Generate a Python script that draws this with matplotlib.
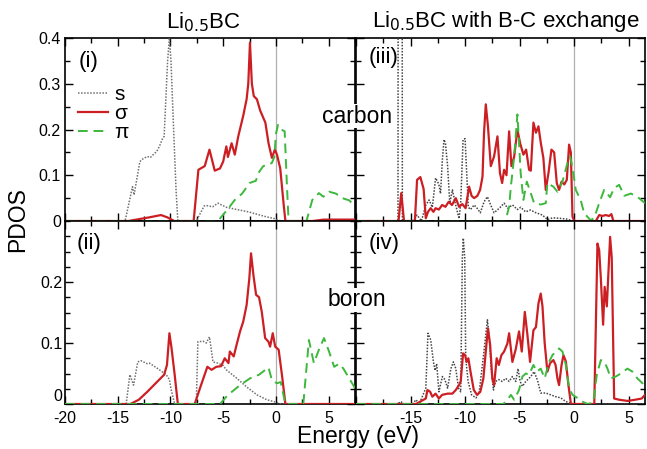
import matplotlib
matplotlib.use("Agg")
import matplotlib.pyplot as plt
from matplotlib.ticker import MultipleLocator, FuncFormatter, FixedLocator

plt.rcParams['font.family'] = ['Liberation Sans', 'DejaVu Sans']
plt.rcParams['axes.unicode_minus'] = False

# ---------------- data (energy eV, PDOS) ----------------
# Panel (i): Li0.5BC, carbon
c_s = [(-20, 0), (-14.3, 0), (-13.6, 0.075), (-13.45, 0.057), (-12.9, 0.13), (-12.6, 0.136),
       (-12.2, 0.141), (-11.9, 0.139), (-11.55, 0.147), (-11.3, 0.152), (-11.05, 0.163),
       (-10.75, 0.18), (-10.6, 0.185), (-10.43, 0.27), (-10.27, 0.35), (-10.1, 0.40),
       (-9.95, 0.35), (-9.7, 0.2), (-9.47, 0.068), (-9.3, 0), (-7.55, 0), (-6.8, 0.033),
       (-6.6, 0.034), (-6.0, 0.031), (-5.5, 0.039), (-4.7, 0.03), (-3.9, 0.026), (-2.6, 0.02),
       (-1.05, 0.01), (-0.1, 0.005), (0.5, 0), (4.0, 0), (5.0, 0.003), (7.5, 0.003)]
c_sigma = [(-20, 0), (-14.0, 0), (-13.0, 0.004), (-12.0, 0.008), (-10.9, 0.013), (-10.3, 0.008),
           (-9.65, 0), (-7.8, 0), (-7.35, 0.112), (-6.75, 0.12), (-6.3, 0.156), (-5.8, 0.11),
           (-5.3, 0.115), (-5.0, 0.13), (-4.7, 0.163), (-4.55, 0.14), (-4.2, 0.17), (-3.9, 0.145),
           (-3.57, 0.185), (-3.1, 0.23), (-2.78, 0.266), (-2.62, 0.3), (-2.46, 0.39), (-2.28, 0.3),
           (-2.1, 0.273), (-1.8, 0.266), (-1.5, 0.242), (-1.0, 0.215), (-0.7, 0.17), (-0.38, 0.138),
           (-0.1, 0.156), (0.1, 0.145), (0.41, 0.115), (0.74, 0.035), (0.9, 0), (3.5, 0),
           (4.5, 0.003), (7.5, 0.003)]
c_pi = [(-20, 0), (-5.5, 0), (-4.6, 0.025), (-3.9, 0.046), (-3.2, 0.06), (-2.5, 0.083),
        (-1.9, 0.088), (-1.66, 0.105), (-1.2, 0.12), (-0.7, 0.123), (-0.38, 0.127), (-0.15, 0.14),
        (0.0, 0.19), (0.2, 0.21), (0.5, 0.2), (0.83, 0.196), (1.05, 0.075), (1.2, 0),
        (2.9, 0), (3.45, 0.046), (4.08, 0.061), (4.5, 0.053), (5.04, 0.064), (5.68, 0.06),
        (6.3, 0.05), (6.96, 0.045), (7.5, 0.032)]

# Panel (ii): Li0.5BC, boron
b_s = [(-20, 0), (-14.2, 0), (-13.85, 0.048), (-13.5, 0.031), (-13.1, 0.069), (-12.8, 0.071),
       (-12.2, 0.066), (-12.0, 0.067), (-11.2, 0.058), (-10.4, 0.048), (-10.1, 0.04),
       (-9.95, 0.025), (-9.6, 0), (-7.55, 0), (-7.4, 0.102), (-6.9, 0.103), (-6.6, 0.1),
       (-6.3, 0.11), (-5.97, 0.069), (-5.5, 0.067), (-5.0, 0.063), (-4.7, 0.056), (-3.7, 0.042),
       (-2.78, 0.028), (-1.8, 0.015), (-0.86, 0.007), (0, 0.003), (0.5, 0), (7.5, 0)]
b_sigma = [(-20, 0), (-13.8, 0), (-13.0, 0.007), (-12.2, 0.02), (-11.4, 0.034), (-10.6, 0.048),
           (-10.33, 0.064), (-10.1, 0.116), (-9.9, 0.092), (-9.6, 0.048), (-9.3, 0), (-7.7, 0),
           (-7.1, 0.031), (-6.5, 0.061), (-6.1, 0.056), (-5.65, 0.061), (-5.2, 0.062),
           (-4.85, 0.075), (-4.5, 0.067), (-4.37, 0.086), (-4.0, 0.078), (-3.73, 0.097),
           (-3.4, 0.119), (-3.1, 0.135), (-2.78, 0.162), (-2.52, 0.206), (-2.36, 0.247),
           (-2.13, 0.211), (-1.88, 0.179), (-1.6, 0.175), (-1.34, 0.151), (-1.02, 0.108),
           (-0.7, 0.102), (-0.55, 0.094), (-0.3, 0.116), (-0.07, 0.094), (0.26, 0.089),
           (0.57, 0.048), (0.9, 0), (7.5, 0)]
b_pi = [(-20, 0), (-5.3, 0), (-4.6, 0.014), (-3.4, 0.031), (-2.46, 0.042), (-1.6, 0.048),
        (-0.7, 0.06), (-0.38, 0.039), (0.1, 0.034), (0.45, 0.036), (0.9, 0), (2.6, 0),
        (3.13, 0.105), (3.6, 0.067), (4.1, 0.09), (4.56, 0.108), (5.04, 0.086), (5.52, 0.061),
        (6.0, 0.066), (6.4, 0.058), (6.95, 0.042), (7.5, 0.026)]

# Panel (iii): with B-C exchange, carbon
xc_s = [(-20, 0), (-16.15, 0), (-16.1, 2.0), (-15.8, 2.0), (-15.75, 0), (-14.8, 0),
        (-14.4, 0.013), (-14.0, 0), (-13.6, 0.035), (-13.3, 0.046), (-13.0, 0.03),
        (-12.7, 0.094), (-12.4, 0.08), (-12.25, 0.06), (-12.08, 0.134), (-11.93, 0.178),
        (-11.8, 0.17), (-11.6, 0.12), (-11.4, 0.039), (-11.16, 0.068), (-10.9, 0.039),
        (-10.55, 0.005), (-10.4, 0.04), (-10.18, 0.178), (-10.0, 0.18), (-9.85, 0.105),
        (-9.7, 0.03), (-9.5, 0.025), (-9.17, 0.035), (-8.9, 0.028), (-8.6, 0.018),
        (-8.26, 0.042), (-7.95, 0.053), (-7.65, 0.035), (-7.34, 0.018), (-7.0, 0.025),
        (-6.73, 0.031), (-6.42, 0.039), (-6.1, 0.028), (-5.65, 0.035), (-5.2, 0.025),
        (-4.9, 0.03), (-4.45, 0.02), (-4.0, 0.024), (-3.5, 0.018), (-2.9, 0.013),
        (-2.45, 0.003), (-1.97, 0.007), (-1.38, 0.006), (-0.6, 0.004), (-0.15, 0), (6.5, 0)]
xc_sigma = [(-20, 0), (-16.1, 0), (-15.85, 0.061), (-15.6, 0), (-14.6, 0), (-14.4, 0.09),
            (-14.1, 0.096), (-13.8, 0.07), (-13.6, 0.006), (-13.4, 0.02), (-13.15, 0.028),
            (-12.9, 0.02), (-12.7, 0.028), (-12.4, 0.025), (-12.1, 0.035), (-11.8, 0.031),
            (-11.5, 0.042), (-11.2, 0.035), (-10.85, 0.05), (-10.55, 0.031), (-10.25, 0.037),
            (-9.95, 0.028), (-9.63, 0.075), (-9.4, 0.055), (-9.17, 0.05), (-8.87, 0.055),
            (-8.62, 0.068), (-8.4, 0.097), (-8.26, 0.193), (-8.1, 0.255), (-7.9, 0.207),
            (-7.64, 0.12), (-7.34, 0.141), (-7.03, 0.185), (-6.8, 0.105), (-6.6, 0.083),
            (-6.42, 0.112), (-6.2, 0.1), (-5.96, 0.196), (-5.75, 0.12), (-5.5, 0.14),
            (-5.2, 0.2), (-4.95, 0.17), (-4.65, 0.145), (-4.4, 0.156), (-4.13, 0.112),
            (-3.97, 0.11), (-3.73, 0.215), (-3.5, 0.193), (-3.27, 0.207), (-3.05, 0.17),
            (-2.82, 0.138), (-2.6, 0.068), (-2.35, 0.105), (-2.08, 0.156), (-1.83, 0.15),
            (-1.59, 0.083), (-1.38, 0.068), (-1.15, 0.086), (-0.9, 0.08), (-0.67, 0.09),
            (-0.46, 0.167), (-0.3, 0.15), (-0.15, 0.01), (0, 0), (2.0, 0), (2.3, 0.013),
            (2.6, 0.011), (2.9, 0.013), (3.2, 0.011), (3.42, 0.015), (3.6, 0), (6.5, 0)]
xc_pi = [(-20, 0), (-6.3, 0), (-5.96, 0.031), (-5.8, 0.075), (-5.5, 0.14), (-5.2, 0.233),
         (-5.05, 0.17), (-4.9, 0.105), (-4.65, 0.046), (-4.34, 0.086), (-4.1, 0.07),
         (-3.67, 0.039), (-3.05, 0.036), (-2.6, 0.039), (-2.45, 0.083), (-1.9, 0.075),
         (-1.53, 0.064), (-1.07, 0.086), (-0.61, 0.127), (-0.37, 0.141), (-0.15, 0.117),
         (0.15, 0.068), (0.6, 0.046), (0.92, 0.017), (1.5, 0.002), (1.83, 0.006),
         (2.3, 0.039), (2.75, 0.068), (3.3, 0.052), (3.67, 0.072), (4.13, 0.079),
         (4.6, 0.055), (5.2, 0.06), (5.8, 0.053), (6.5, 0.039)]

# Panel (iv): with B-C exchange, boron
xb_s = [(-20, 0), (-16.2, 0), (-15.9, 0.004), (-15.6, 0), (-14.8, 0), (-14.5, 0.007),
        (-14.2, 0), (-13.6, 0.026), (-13.4, 0.116), (-13.15, 0.105), (-12.9, 0.069),
        (-12.75, 0.055), (-12.6, 0.066), (-12.4, 0.02), (-12.08, 0.045), (-11.85, 0.04),
        (-11.6, 0.026), (-11.3, 0.058), (-11.07, 0.069), (-10.85, 0.058), (-10.6, 0.026),
        (-10.4, 0.02), (-10.25, 0.239), (-10.16, 0.272), (-10.03, 0.239), (-9.94, 0.075),
        (-9.72, 0.037), (-9.4, 0.015), (-9.0, 0.01), (-8.7, 0.02), (-8.41, 0.064),
        (-8.1, 0.113), (-7.95, 0.138), (-7.8, 0.113), (-7.58, 0.053), (-7.4, 0.023),
        (-7.2, 0.037), (-6.9, 0.04), (-6.6, 0.037), (-6.27, 0.042), (-5.96, 0.037),
        (-5.66, 0.045), (-5.35, 0.037), (-5.14, 0.058), (-4.95, 0.037), (-4.74, 0.029),
        (-4.43, 0.037), (-3.97, 0.045), (-3.67, 0.053), (-3.36, 0.039), (-3.06, 0.018),
        (-2.6, 0.018), (-2.14, 0.015), (-1.68, 0.012), (-1.22, 0.01), (-0.76, 0.004),
        (-0.3, 0.001), (0, 0), (6.5, 0)]
xb_sigma = [(-20, 0), (-14.5, 0), (-13.6, 0.009), (-13.45, 0.023), (-13.2, 0.02), (-13.0, 0.012),
            (-12.7, 0.017), (-12.4, 0.009), (-12.1, 0.015), (-11.6, 0.017), (-11.16, 0.017),
            (-10.85, 0.023), (-10.55, 0.031), (-10.4, 0.037), (-10.18, 0.083), (-10.0, 0.08),
            (-9.85, 0.069), (-9.7, 0.075), (-9.5, 0.053), (-9.2, 0.023), (-8.9, 0.015),
            (-8.6, 0.02), (-8.32, 0.042), (-8.1, 0.086), (-7.9, 0.124), (-7.7, 0.097),
            (-7.5, 0.042), (-7.34, 0.031), (-7.1, 0.075), (-6.9, 0.064), (-6.67, 0.08),
            (-6.42, 0.086), (-6.12, 0.099), (-5.96, 0.116), (-5.66, 0.069), (-5.35, 0.09),
            (-5.05, 0.119), (-4.8, 0.086), (-4.52, 0.151), (-4.28, 0.113), (-4.04, 0.069),
            (-3.73, 0.121), (-3.5, 0.126), (-3.27, 0.165), (-3.06, 0.181), (-2.9, 0.16),
            (-2.7, 0.1), (-2.45, 0.053), (-2.2, 0.067), (-1.9, 0.072), (-1.7, 0.064),
            (-1.53, 0.042), (-1.38, 0.031), (-1.15, 0.064), (-0.98, 0.08), (-0.76, 0.07),
            (-0.52, 0.031), (-0.3, 0.001), (-0.15, 0), (1.85, 0), (2.14, 0.263), (2.3, 0.252),
            (2.45, 0.206), (2.66, 0.13), (2.8, 0.192), (3.0, 0.16), (3.3, 0.274), (3.45, 0.24),
            (3.67, 0.009), (4.13, 0.007), (4.9, 0.005), (5.6, 0.007), (6.2, 0.009), (6.5, 0.015)]
xb_pi = [(-20, 0), (-6.5, 0), (-6.1, 0.007), (-5.8, 0.015), (-5.5, 0.007), (-5.05, 0.023),
         (-4.74, 0.045), (-4.43, 0.05), (-4.13, 0.048), (-3.73, 0.064), (-3.42, 0.053),
         (-3.06, 0.058), (-2.7, 0.042), (-2.3, 0.069), (-1.99, 0.08), (-1.68, 0.086),
         (-1.38, 0.091), (-1.07, 0.086), (-0.76, 0.064), (-0.46, 0.026), (-0.15, 0.015),
         (0.3, 0.01), (0.76, 0.004), (1.2, 0), (1.75, 0.002), (2.08, 0.048), (2.45, 0.072),
         (2.75, 0.07), (3.06, 0.058), (3.36, 0.042), (3.82, 0.045), (4.28, 0.05),
         (4.89, 0.058), (5.35, 0.053), (5.8, 0.042), (6.27, 0.034), (6.5, 0.026)]

series_labels = ['s', 'σ', 'π']
titles = ['Li$_{0.5}$BC', 'Li$_{0.5}$BC with B-C exchange']
panel_tags = ['(i)', '(ii)', '(iii)', '(iv)']

# ---------------- figure ----------------
W, H = 647, 449
fig = plt.figure(figsize=(W / 100, H / 100), dpi=100)

def box(x0, y0, x1, y1):
    return [x0 / W, 1 - y1 / H, (x1 - x0) / W, (y1 - y0) / H]

ax_i = fig.add_axes(box(65, 38, 355, 221))
ax_ii = fig.add_axes(box(65, 221, 355, 404))
ax_iii = fig.add_axes(box(356, 38, 645, 221))
ax_iv = fig.add_axes(box(356, 221, 645, 404))

SIG_STYLE = dict(color='#cc1f24', ls='-', lw=1.6)
PI_STYLE = dict(color='#3cb83c', ls=(0, (5, 3)), lw=1.4)

def draw(ax, s, sig, pi, xlim, ylim, s_color):
    ax.axvline(0, color='#b0b0b0', lw=0.9, zorder=1)
    s_style = dict(color=s_color, ls=(0, (1, 1)), lw=1.1)
    for data, st, lab in ((s, s_style, series_labels[0]),
                          (sig, SIG_STYLE, series_labels[1]),
                          (pi, PI_STYLE, series_labels[2])):
        e, v = zip(*data)
        ax.plot(e, v, label=lab, zorder=3, **st)
    ax.set_xlim(*xlim)
    ax.set_ylim(*ylim)
    ax.xaxis.set_major_locator(MultipleLocator(5))
    ax.xaxis.set_minor_locator(MultipleLocator(2.5))
    ax.tick_params(which='both', direction='in', top=True, right=True, width=1.0,
                   labelsize=11.5, pad=3)
    ax.tick_params(which='major', length=6)
    ax.tick_params(which='minor', length=3.5)
    for sp in ax.spines.values():
        sp.set_linewidth(1.2)

fmt = FuncFormatter(lambda v, p: '0' if abs(v) < 1e-9 else ('%.1f' % v))

draw(ax_i, c_s, c_sigma, c_pi, (-20, 7.5), (0, 0.4), '#707070')
draw(ax_ii, b_s, b_sigma, b_pi, (-20, 7.5), (0, 0.3), '#707070')
draw(ax_iii, xc_s, xc_sigma, xc_pi, (-20, 6.5), (0, 0.4), '#444444')
draw(ax_iv, xb_s, xb_sigma, xb_pi, (-20, 6.5), (0, 0.3), '#444444')

for ax in (ax_i, ax_iii):
    ax.yaxis.set_major_locator(MultipleLocator(0.1))
    ax.yaxis.set_minor_locator(MultipleLocator(0.05))
    ax.tick_params(labelbottom=False)
for ax in (ax_ii, ax_iv):
    ax.yaxis.set_major_locator(FixedLocator([0, 0.1, 0.2]))
    ax.yaxis.set_minor_locator(MultipleLocator(0.025))
    ax.tick_params(axis='x', pad=5)
ax_i.yaxis.set_major_formatter(fmt)
ax_ii.yaxis.set_major_formatter(fmt)
for ax in (ax_iii, ax_iv):
    ax.tick_params(labelleft=False)
ax_iv.xaxis.set_major_locator(FixedLocator([-20, -15, -10, -5, 0, 5]))
ax_iv.xaxis.set_major_formatter(FuncFormatter(lambda v, p: '' if v <= -20 else '%d' % v))
ax_ii.xaxis.set_major_formatter(FuncFormatter(lambda v, p: '%d' % v))
ax_ii.tick_params(axis='y', pad=2)
# lift the lowest "0" label a little so it sits clear of the "-20" below it
ax_ii.yaxis.get_major_ticks()[0].label1.set_va('bottom')

# legend
ax_i.legend(loc='upper left', bbox_to_anchor=(78 / W, 1 - 85 / H), bbox_transform=fig.transFigure,
            frameon=False, fontsize=15, handlelength=1.45, handletextpad=0.3,
            labelspacing=0.0, borderpad=0, borderaxespad=0)

def ftext(x, y, s, **kw):
    t = fig.text(x / W, 1 - y / H, s, **kw)
    return t

ftext(203, 22, titles[0], fontsize=16, ha='center', va='center')
ftext(506, 22, titles[1], fontsize=16, ha='center', va='center')
ftext(89, 62, panel_tags[0], fontsize=16, ha='center', va='center')
ftext(89, 243, panel_tags[1], fontsize=16, ha='center', va='center')
ftext(384, 58, panel_tags[2], fontsize=16, ha='center', va='center')
ftext(384, 243, panel_tags[3], fontsize=16, ha='center', va='center')
ftext(357, 116, 'carbon', fontsize=16.5, ha='center', va='center', zorder=10,
      bbox=dict(facecolor='white', edgecolor='none', pad=0.5))
ftext(357, 300, 'boron', fontsize=16.5, ha='center', va='center', zorder=10,
      bbox=dict(facecolor='white', edgecolor='none', pad=0.5))
ftext(18, 220, 'PDOS', fontsize=16.5, ha='center', va='center', rotation=90)
ftext(358, 436, 'Energy (eV)', fontsize=16.5, ha='center', va='center')

fig.savefig('out.png', dpi=100)
